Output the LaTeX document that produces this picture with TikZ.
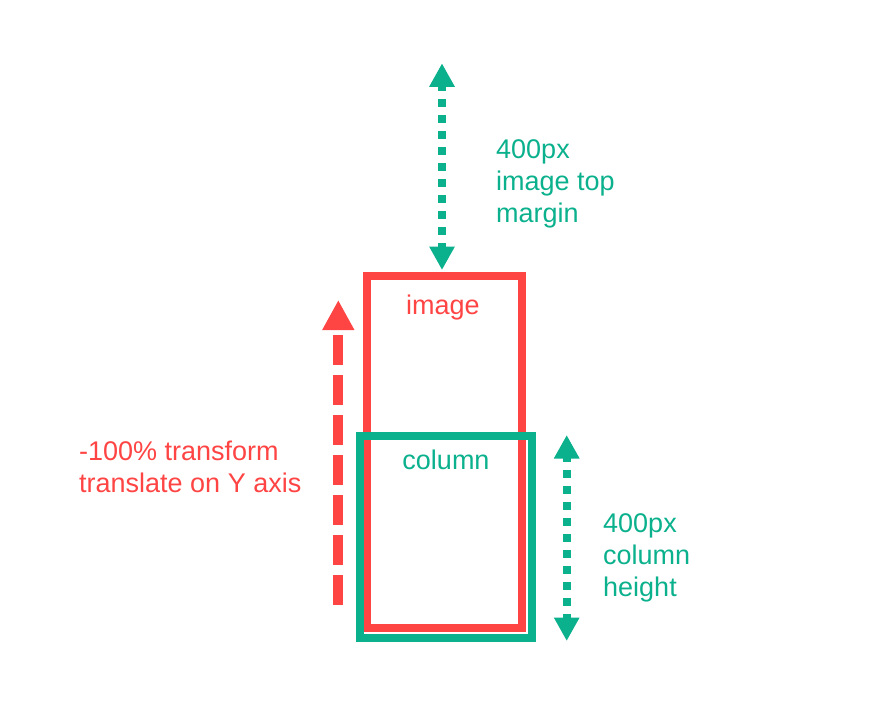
\documentclass[tikz,border=0pt]{standalone}
\usepackage{fontspec}
\setmainfont{Liberation Sans}
\usetikzlibrary{arrows.meta}
\definecolor{cred}{HTML}{FF4444}
\definecolor{cgreen}{HTML}{0BB08D}
\begin{document}
\begin{tikzpicture}[x=1pt,y=-1pt,
  lbl/.style={inner sep=0pt,font=\fontsize{27}{32}\selectfont,align=left},
  greenarrow/.style={cgreen,line width=8pt,dash pattern=on 8pt off 8pt,dash phase=3pt,
     {Triangle[length=23.5pt,width=24pt]}-{Triangle[length=23.5pt,width=24pt]}},
  redarrow/.style={cred,line width=10pt,dash pattern=on 30pt off 10pt,
     -{Triangle[length=30pt,width=30pt]}},
  box/.style={line width=8pt}]
\useasboundingbox (0,0) rectangle (880,721);
% image box (red)
\draw[box,cred] (366.5,276) rectangle (521.7,627.5);
% column box (green)
\draw[box,cgreen] (360,436) rectangle (531.7,637.5);
% labels in boxes
\node[lbl,text=cred] (imglbl) at (443,308) {image};
\node[lbl,text=cgreen] (collbl) at (446,460) {column};
% top margin arrow
\coordinate (mtop) at (442,63.3);
\coordinate (mbot) at (442,270);
\draw[greenarrow] (mbot) -- (mtop);
\node[lbl,text=cgreen,anchor=west] (margintxt) at (496,184) {400px\\image top\\margin};
% column height arrow
\coordinate (ctop) at (566.7,435);
\coordinate (cbot) at (566.7,641);
\draw[greenarrow] (cbot) -- (ctop);
\node[lbl,text=cgreen,anchor=west] (coltxt) at (603,558) {400px\\column\\height};
% translate arrow
\coordinate (tbot) at (338.3,605);
\coordinate (ttop) at (338.3,300);
\draw[redarrow] (tbot) -- (ttop);
\node[lbl,text=cred,anchor=west] (transtxt) at (79,467) {-100\% transform\\translate on Y axis};
\end{tikzpicture}
\end{document}
